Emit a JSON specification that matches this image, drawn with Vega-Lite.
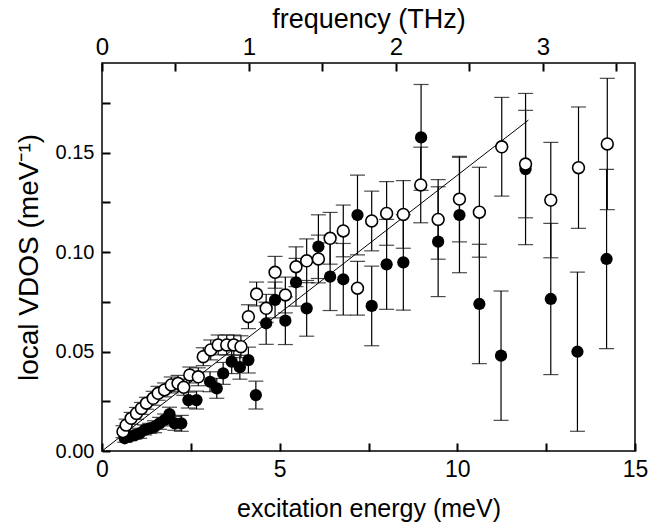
{
  "$schema": "https://vega.github.io/schema/vega-lite/v6.json",
  "width": 533,
  "height": 388,
  "autosize": "none",
  "padding": {"left": 102, "top": 63, "right": 15, "bottom": 74},
  "background": "white",
  "config": {
    "view": {"stroke": "black", "strokeWidth": 1.5},
    "font": "Liberation Sans",
    "axis": {"grid": false, "domain": false, "offset": -8, "ticks": true, "tickSize": 8, "tickColor": "#000000", "tickWidth": 2, "tickOpacity": 1, "zindex": 2, "labelColor": "black", "titleColor": "black", "titleFontWeight": "normal", "labelFont": "Liberation Sans", "titleFont": "Liberation Sans"}
  },
  "datasets": {
    "pts": [
      {"s": "open", "e": 0.59, "v": 0.0097, "lo": 0.0067, "hi": 0.0127},
      {"s": "open", "e": 0.68, "v": 0.0130, "lo": 0.0100, "hi": 0.0160},
      {"s": "open", "e": 0.82, "v": 0.0164, "lo": 0.0134, "hi": 0.0194},
      {"s": "open", "e": 0.97, "v": 0.0189, "lo": 0.0159, "hi": 0.0219},
      {"s": "open", "e": 1.11, "v": 0.0214, "lo": 0.0184, "hi": 0.0244},
      {"s": "open", "e": 1.25, "v": 0.0240, "lo": 0.0210, "hi": 0.0270},
      {"s": "open", "e": 1.44, "v": 0.0265, "lo": 0.0230, "hi": 0.0300},
      {"s": "open", "e": 1.58, "v": 0.0290, "lo": 0.0255, "hi": 0.0325},
      {"s": "open", "e": 1.76, "v": 0.0307, "lo": 0.0272, "hi": 0.0342},
      {"s": "open", "e": 1.95, "v": 0.0332, "lo": 0.0292, "hi": 0.0372},
      {"s": "open", "e": 2.14, "v": 0.0340, "lo": 0.0300, "hi": 0.0380},
      {"s": "open", "e": 2.30, "v": 0.0320, "lo": 0.0280, "hi": 0.0360},
      {"s": "open", "e": 2.47, "v": 0.0382, "lo": 0.0342, "hi": 0.0422},
      {"s": "open", "e": 2.71, "v": 0.0373, "lo": 0.0328, "hi": 0.0418},
      {"s": "open", "e": 2.85, "v": 0.0474, "lo": 0.0429, "hi": 0.0519},
      {"s": "open", "e": 3.06, "v": 0.0508, "lo": 0.0458, "hi": 0.0558},
      {"s": "open", "e": 3.27, "v": 0.0533, "lo": 0.0483, "hi": 0.0583},
      {"s": "open", "e": 3.51, "v": 0.0533, "lo": 0.0483, "hi": 0.0583},
      {"s": "open", "e": 3.71, "v": 0.0533, "lo": 0.0483, "hi": 0.0583},
      {"s": "open", "e": 3.91, "v": 0.0524, "lo": 0.0469, "hi": 0.0579},
      {"s": "open", "e": 4.12, "v": 0.0675, "lo": 0.0615, "hi": 0.0735},
      {"s": "open", "e": 4.35, "v": 0.0789, "lo": 0.0729, "hi": 0.0849},
      {"s": "open", "e": 4.62, "v": 0.0717, "lo": 0.0647, "hi": 0.0787},
      {"s": "open", "e": 4.87, "v": 0.0898, "lo": 0.0818, "hi": 0.0978},
      {"s": "open", "e": 5.16, "v": 0.0784, "lo": 0.0694, "hi": 0.0874},
      {"s": "open", "e": 5.46, "v": 0.0926, "lo": 0.0826, "hi": 0.1026},
      {"s": "open", "e": 5.76, "v": 0.0956, "lo": 0.0846, "hi": 0.1066},
      {"s": "open", "e": 6.09, "v": 0.0965, "lo": 0.0845, "hi": 0.1085},
      {"s": "open", "e": 6.42, "v": 0.1069, "lo": 0.0939, "hi": 0.1199},
      {"s": "open", "e": 6.79, "v": 0.1106, "lo": 0.0976, "hi": 0.1236},
      {"s": "open", "e": 7.19, "v": 0.0818, "lo": 0.0683, "hi": 0.0953},
      {"s": "open", "e": 7.59, "v": 0.1156, "lo": 0.1006, "hi": 0.1306},
      {"s": "open", "e": 8.01, "v": 0.1194, "lo": 0.1034, "hi": 0.1354},
      {"s": "open", "e": 8.48, "v": 0.1189, "lo": 0.1019, "hi": 0.1359},
      {"s": "open", "e": 8.97, "v": 0.1337, "lo": 0.1147, "hi": 0.1527},
      {"s": "open", "e": 9.46, "v": 0.1164, "lo": 0.0964, "hi": 0.1364},
      {"s": "open", "e": 10.06, "v": 0.1266, "lo": 0.1051, "hi": 0.1481},
      {"s": "open", "e": 10.62, "v": 0.1200, "lo": 0.0974, "hi": 0.1426},
      {"s": "open", "e": 11.25, "v": 0.1529, "lo": 0.1281, "hi": 0.1777},
      {"s": "open", "e": 11.92, "v": 0.1442, "lo": 0.1172, "hi": 0.1712},
      {"s": "open", "e": 12.63, "v": 0.1261, "lo": 0.0971, "hi": 0.1551},
      {"s": "open", "e": 13.41, "v": 0.1424, "lo": 0.1119, "hi": 0.1729},
      {"s": "open", "e": 14.22, "v": 0.1543, "lo": 0.1213, "hi": 0.1873},
      {"s": "filled", "e": 0.64, "v": 0.0064, "lo": 0.0044, "hi": 0.0084},
      {"s": "filled", "e": 0.78, "v": 0.0072, "lo": 0.0052, "hi": 0.0092},
      {"s": "filled", "e": 0.92, "v": 0.0080, "lo": 0.0060, "hi": 0.0100},
      {"s": "filled", "e": 1.06, "v": 0.0089, "lo": 0.0064, "hi": 0.0114},
      {"s": "filled", "e": 1.20, "v": 0.0106, "lo": 0.0081, "hi": 0.0131},
      {"s": "filled", "e": 1.34, "v": 0.0114, "lo": 0.0089, "hi": 0.0139},
      {"s": "filled", "e": 1.48, "v": 0.0122, "lo": 0.0092, "hi": 0.0152},
      {"s": "filled", "e": 1.62, "v": 0.0139, "lo": 0.0109, "hi": 0.0169},
      {"s": "filled", "e": 1.76, "v": 0.0156, "lo": 0.0126, "hi": 0.0186},
      {"s": "filled", "e": 1.90, "v": 0.0185, "lo": 0.0150, "hi": 0.0220},
      {"s": "filled", "e": 2.05, "v": 0.0139, "lo": 0.0104, "hi": 0.0174},
      {"s": "filled", "e": 2.23, "v": 0.0139, "lo": 0.0099, "hi": 0.0179},
      {"s": "filled", "e": 2.43, "v": 0.0256, "lo": 0.0216, "hi": 0.0296},
      {"s": "filled", "e": 2.66, "v": 0.0256, "lo": 0.0211, "hi": 0.0301},
      {"s": "filled", "e": 3.04, "v": 0.0348, "lo": 0.0298, "hi": 0.0398},
      {"s": "filled", "e": 3.23, "v": 0.0315, "lo": 0.0265, "hi": 0.0365},
      {"s": "filled", "e": 3.41, "v": 0.0390, "lo": 0.0335, "hi": 0.0445},
      {"s": "filled", "e": 3.65, "v": 0.0449, "lo": 0.0389, "hi": 0.0509},
      {"s": "filled", "e": 3.88, "v": 0.0421, "lo": 0.0361, "hi": 0.0481},
      {"s": "filled", "e": 4.12, "v": 0.0457, "lo": 0.0392, "hi": 0.0522},
      {"s": "filled", "e": 4.33, "v": 0.0281, "lo": 0.0211, "hi": 0.0351},
      {"s": "filled", "e": 4.62, "v": 0.0642, "lo": 0.0536, "hi": 0.0748},
      {"s": "filled", "e": 4.87, "v": 0.0759, "lo": 0.0669, "hi": 0.0849},
      {"s": "filled", "e": 5.16, "v": 0.0655, "lo": 0.0535, "hi": 0.0775},
      {"s": "filled", "e": 5.46, "v": 0.0848, "lo": 0.0728, "hi": 0.0968},
      {"s": "filled", "e": 5.76, "v": 0.0717, "lo": 0.0577, "hi": 0.0857},
      {"s": "filled", "e": 6.09, "v": 0.1027, "lo": 0.0867, "hi": 0.1187},
      {"s": "filled", "e": 6.42, "v": 0.0876, "lo": 0.0706, "hi": 0.1046},
      {"s": "filled", "e": 6.79, "v": 0.0863, "lo": 0.0683, "hi": 0.1043},
      {"s": "filled", "e": 7.19, "v": 0.1186, "lo": 0.0986, "hi": 0.1386},
      {"s": "filled", "e": 7.59, "v": 0.0729, "lo": 0.0529, "hi": 0.0929},
      {"s": "filled", "e": 8.01, "v": 0.0938, "lo": 0.0712, "hi": 0.1164},
      {"s": "filled", "e": 8.48, "v": 0.0948, "lo": 0.0708, "hi": 0.1188},
      {"s": "filled", "e": 8.98, "v": 0.1576, "lo": 0.1310, "hi": 0.1842},
      {"s": "filled", "e": 9.46, "v": 0.1052, "lo": 0.0776, "hi": 0.1328},
      {"s": "filled", "e": 10.06, "v": 0.1186, "lo": 0.0896, "hi": 0.1476},
      {"s": "filled", "e": 10.62, "v": 0.0739, "lo": 0.0439, "hi": 0.1039},
      {"s": "filled", "e": 11.23, "v": 0.0479, "lo": 0.0154, "hi": 0.0804},
      {"s": "filled", "e": 11.92, "v": 0.1417, "lo": 0.1037, "hi": 0.1797},
      {"s": "filled", "e": 12.63, "v": 0.0764, "lo": 0.0384, "hi": 0.1144},
      {"s": "filled", "e": 13.38, "v": 0.0499, "lo": 0.0099, "hi": 0.0899},
      {"s": "filled", "e": 14.20, "v": 0.0965, "lo": 0.0515, "hi": 0.1415}
    ],
    "fit": [{"e": 0, "v": 0}, {"e": 12.0, "v": 0.1663}],
    "freq": [{"f": 0}, {"f": 3.627}]
  },
  "layer": [
    {
      "layer": [
        {
          "data": {"name": "pts"},
          "mark": {"type": "rule", "color": "black", "strokeWidth": 1.2},
          "encoding": {
            "x": {"field": "e", "type": "quantitative", "scale": {"domain": [0, 15], "nice": false, "zero": false},
              "axis": {"orient": "bottom", "values": [0, 2.5, 5, 7.5, 10, 12.5, 15],
                "labelExpr": "datum.value % 5 === 0 ? format(datum.value, 'd') : ''",
                "ticks": true, "tickSize": 8, "tickColor": "#000000", "tickWidth": 2,
                "labelPadding": 7, "labelFontSize": 23, "labelFlush": false,
                "title": "excitation energy (meV)", "titleFontSize": 25, "titlePadding": 15}},
            "y": {"field": "lo", "type": "quantitative", "scale": {"domain": [0, 0.195], "nice": false},
              "axis": {"values": [0, 0.025, 0.05, 0.075, 0.1, 0.125, 0.15, 0.175],
                "labelExpr": "abs(datum.value*20 - round(datum.value*20)) < 0.001 ? format(datum.value, '.2f') : ''",
                "ticks": true, "tickSize": 8, "tickColor": "#000000", "tickWidth": 2,
                "labelPadding": 8, "labelFontSize": 20, "labelFlush": false,
                "title": "local VDOS (meV⁻¹)", "titleFontSize": 28, "titlePadding": 12}},
            "y2": {"field": "hi"}
          }
        },
        {
          "data": {"name": "pts"},
          "mark": {"type": "tick", "orient": "horizontal", "color": "black", "size": 15, "thickness": 1.2},
          "encoding": {
            "x": {"field": "e", "type": "quantitative"},
            "y": {"field": "lo", "type": "quantitative"}
          }
        },
        {
          "data": {"name": "pts"},
          "mark": {"type": "tick", "orient": "horizontal", "color": "black", "size": 15, "thickness": 1.2},
          "encoding": {
            "x": {"field": "e", "type": "quantitative"},
            "y": {"field": "hi", "type": "quantitative"}
          }
        },
        {
          "data": {"name": "fit"},
          "mark": {"type": "line", "color": "black", "strokeWidth": 1},
          "encoding": {
            "x": {"field": "e", "type": "quantitative"},
            "y": {"field": "v", "type": "quantitative"}
          }
        },
        {
          "data": {"name": "pts"},
          "transform": [{"filter": "datum.s === 'filled'"}],
          "mark": {"type": "point", "shape": "circle", "filled": true, "color": "black", "size": 150, "opacity": 1},
          "encoding": {
            "x": {"field": "e", "type": "quantitative"},
            "y": {"field": "v", "type": "quantitative"}
          }
        },
        {
          "data": {"name": "pts"},
          "transform": [{"filter": "datum.s === 'open'"}],
          "mark": {"type": "point", "shape": "circle", "filled": true, "fill": "white", "stroke": "black", "strokeWidth": 1.6, "size": 140, "opacity": 1, "fillOpacity": 1, "strokeOpacity": 1},
          "encoding": {
            "x": {"field": "e", "type": "quantitative"},
            "y": {"field": "v", "type": "quantitative"}
          }
        }
      ]
    },
    {
      "data": {"name": "freq"},
      "mark": {"type": "point", "opacity": 0},
      "encoding": {
        "x": {"field": "f", "type": "quantitative", "scale": {"domain": [0, 3.627], "nice": false, "zero": false},
          "axis": {"orient": "top", "values": [0, 0.5, 1, 1.5, 2, 2.5, 3, 3.5],
            "labelExpr": "datum.value % 1 === 0 ? format(datum.value, 'd') : ''",
            "ticks": true, "tickSize": 8, "tickColor": "#000000", "tickWidth": 2,
            "labelPadding": 4, "labelFontSize": 24, "labelFlush": false,
            "title": "frequency (THz)", "titleFontSize": 27, "titlePadding": 2}}
      }
    }
  ],
  "resolve": {"scale": {"x": "independent"}}
}
